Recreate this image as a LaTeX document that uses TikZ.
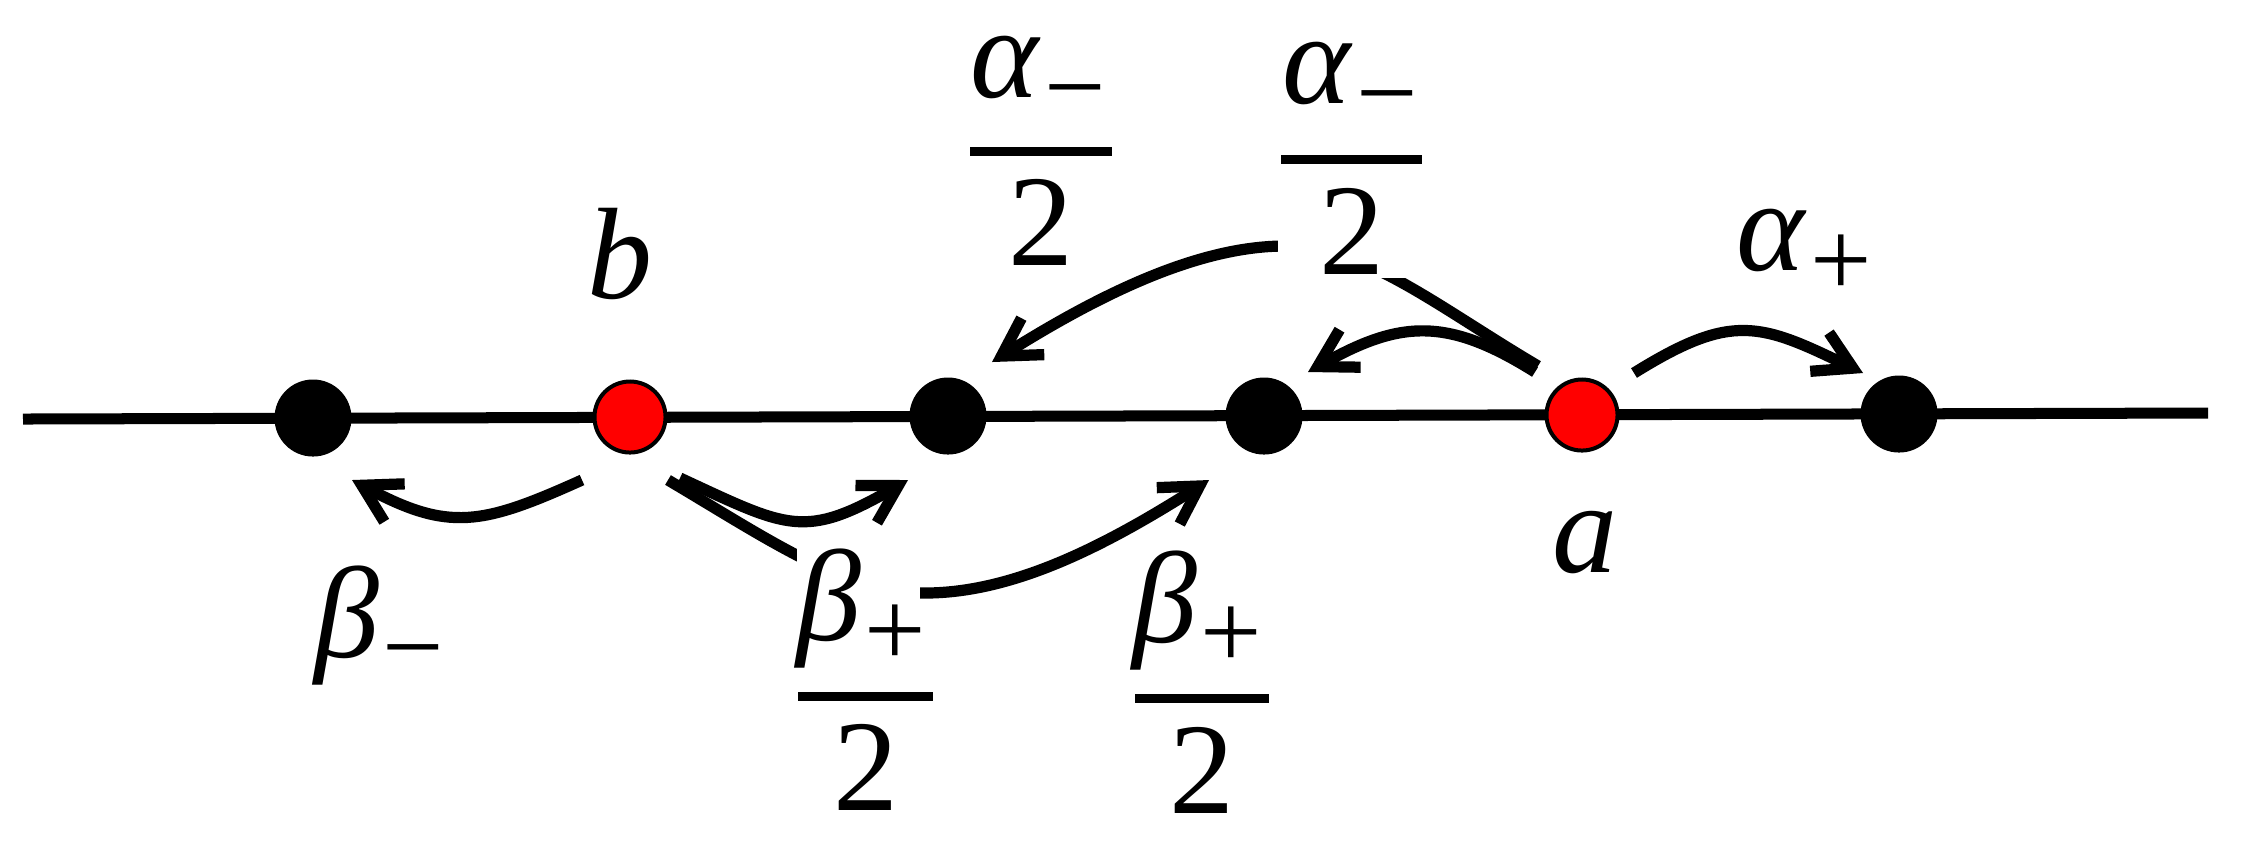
\documentclass[tikz,border=0pt]{standalone}
\usepackage{fontspec}
\setmainfont{Liberation Serif}
\usetikzlibrary{arrows.meta}
\newcommand{\mainsz}{\fontsize{37}{40}\selectfont}
\newcommand{\subsz}{\fontsize{31}{34}\selectfont}
\newcommand{\withsub}[2]{\textit{#1}\kern1pt\raisebox{-7.6pt}{\subsz #2}}
\begin{document}
\begin{tikzpicture}[x=0.01cm,y=-0.01cm,
  dotb/.style={circle,fill=black,inner sep=0pt,minimum size=0.77cm},
  dotr/.style={circle,fill=red,draw=black,line width=0.04cm,inner sep=0pt,minimum size=0.71cm},
  lbl/.style={inner sep=0pt,anchor=base,font=\mainsz},
  arr/.style={line width=0.112cm,-{Straight Barb[length=3.7mm,width=4.3mm,line width=3.2pt]}},
  mainline/.style={line width=0.11cm},
  fracbar/.style={line width=0.09cm},
  whitemask/.style={fill=white}]
\useasboundingbox (0,0) rectangle (2246,853);
% axis
\coordinate (lineL) at (23,419);
\coordinate (lineR) at (2208,413);
\draw[mainline] (lineL) -- (lineR);
% sites
\node[dotb] (d1) at (313,418) {};
\node[dotr] (b)  at (630,417) {};
\node[dotb] (d3) at (948,416) {};
\node[dotb] (d4) at (1264,416) {};
\node[dotr] (a)  at (1582,415) {};
\node[dotb] (d6) at (1899,414) {};
% arrows from b
\draw[arr] ([shift={(-48,63)}]b.center) .. controls +(-100,45) and +(97,52) .. ([shift={(39,62)}]d1.center);
\draw[arr] ([shift={(50,61)}]b.center) .. controls +(108,50) and +(-104,60) .. ([shift={(-40,64)}]d3.center);
\draw[arr] ([shift={(38,63)}]b.center) .. controls +(103,61) and +(-80,0) .. (925,593)
           .. controls +(90,0) and +(-101,64) .. ([shift={(-55,64)}]d4.center);
% arrows from a
\draw[arr] ([shift={(-44,-49)}]a.center) .. controls +(-103,-61) and +(80,0) .. (1285,246)
           .. controls +(-90,0) and +(102,-64) .. ([shift={(44,-54)}]d3.center);
\draw[arr] ([shift={(-47,-43)}]a.center) .. controls +(-89,-56) and +(91,-51) .. ([shift={(44,-44)}]d4.center);
\draw[arr] ([shift={(52,-42)}]a.center) .. controls +(98,-61) and +(-103,-50) .. ([shift={(-36,-41)}]d6.center);
% label backgrounds
\fill[whitemask] (797,540) rectangle (920,680);
\fill[whitemask] (1278,170) rectangle (1450,278);
% labels
\node[lbl] (lb) at (620,298) {\textit{b}};
\node[lbl] (la) at (1585,572) {\textit{a}};
\node[lbl] (lbm) at (379,657) {\withsub{β}{−}};
\node[lbl] (lap) at (1804,270) {\withsub{α}{+}};
% fraction 1
\node[lbl] (n1) at (1038,97) {\withsub{α}{−}};
\node[lbl] (q1) at (1041,265) {2};
\draw[fracbar] (970,151.5) -- (1112,151.5);
% fraction 2
\node[lbl] (n2) at (1350,103) {\withsub{α}{−}};
\node[lbl] (q2) at (1352,274) {2};
\draw[fracbar] (1281,159) -- (1422,159);
% fraction 3
\node[lbl] (n3) at (861,640) {\withsub{β}{+}};
\node[lbl] (q3) at (866,810) {2};
\draw[fracbar] (798,696.5) -- (933,696.5);
% fraction 4
\node[lbl] (n4) at (1197,642) {\withsub{β}{+}};
\node[lbl] (q4) at (1202,813) {2};
\draw[fracbar] (1135,698) -- (1269,698);
\end{tikzpicture}
\end{document}
